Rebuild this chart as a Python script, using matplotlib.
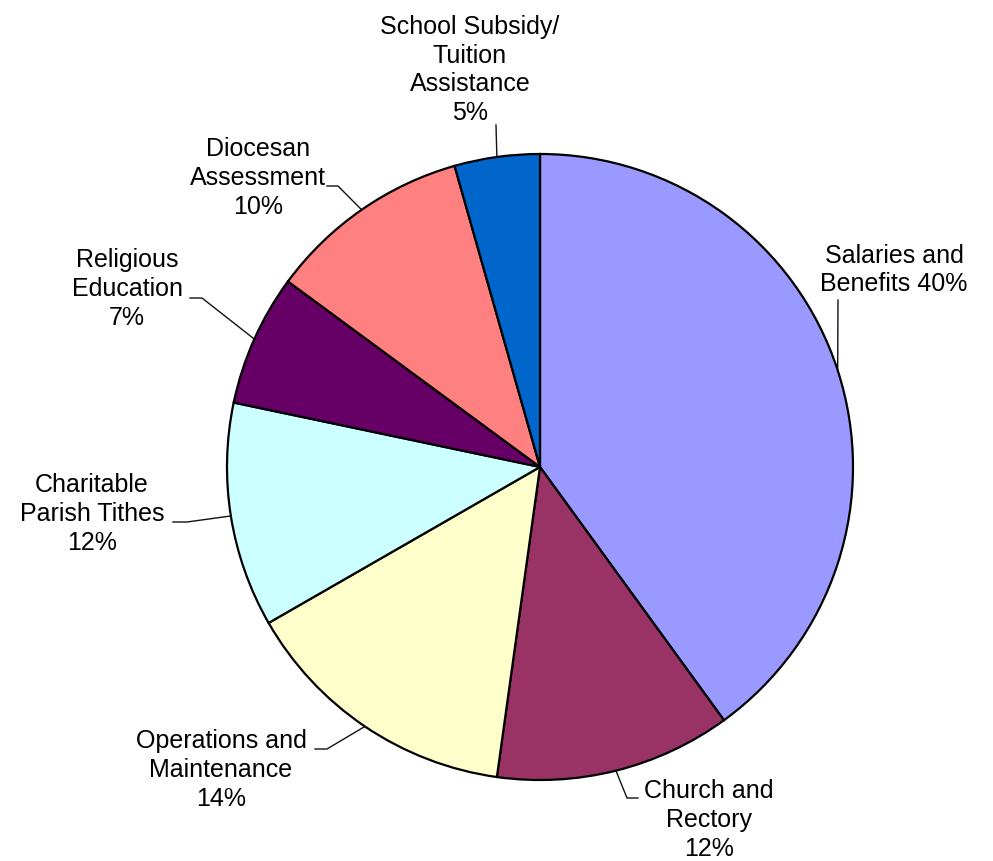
import numpy as np
import matplotlib
matplotlib.use('Agg')
import matplotlib.pyplot as plt

# parish expense breakdown (clockwise from 12 o'clock)
categories = ['Salaries and\nBenefits', 'Church and\nRectory', 'Operations and\nMaintenance',
              'Charitable\nParish Tithes', 'Religious\nEducation', 'Diocesan\nAssessment',
              'School Subsidy/\nTuition\nAssistance']
values = [40.0, 12.2, 14.5, 11.6, 6.8, 10.5, 4.4]
pct_labels = ['40%', '12%', '14%', '12%', '7%', '10%', '5%']
colors = ['#9999FF', '#993366', '#FFFFCC', '#CCFFFF', '#660066', '#FF8080', '#0066CC']

W, H = 993, 861
cx, cy, R = 540, H - 467, 313

fig = plt.figure(figsize=(W / 100, H / 100), dpi=100)
ax = fig.add_axes([0, 0, 1, 1])
wedges, _ = ax.pie(values, colors=colors, startangle=90, counterclock=False,
                   center=(cx, cy), radius=R,
                   wedgeprops=dict(edgecolor='black', linewidth=1.6))
ax.set_xlim(0, W)
ax.set_ylim(0, H)
ax.set_aspect('equal')
ax.axis('off')

# label layout: text centre and leader knee points (pixels from top-left)
text_pos = [(894, 270), (709, 820), (221, 770), (92, 514), (127, 289), (258, 178), (470, 70)]
knees = [[(838, 300)],
         [(627, 798), (638, 798)],
         [(327, 749), (315, 749)],
         [(187, 522), (173, 522)],
         [(202, 298), (190, 298)],
         [(338, 186), (327, 186)],
         [(496, 125)]]

for i, w in enumerate(wedges):
    ang = np.deg2rad((w.theta1 + w.theta2) / 2)
    ex, ey = cx + R * np.cos(ang), cy + R * np.sin(ang)
    xs = [ex] + [k[0] for k in knees[i]]
    ys = [ey] + [H - k[1] for k in knees[i]]
    ax.plot(xs, ys, color='#111111', lw=1.0, zorder=0.5)
    if i == 0:
        txt = 'Salaries and\nBenefits ' + pct_labels[i]
    else:
        txt = categories[i] + '\n' + pct_labels[i]
    tx, ty = text_pos[i]
    ax.text(tx, H - ty, txt, ha='center', va='center', multialignment='center',
            fontsize=18, family='Liberation Sans', linespacing=1.25)

fig.savefig('out.png', dpi=100)
